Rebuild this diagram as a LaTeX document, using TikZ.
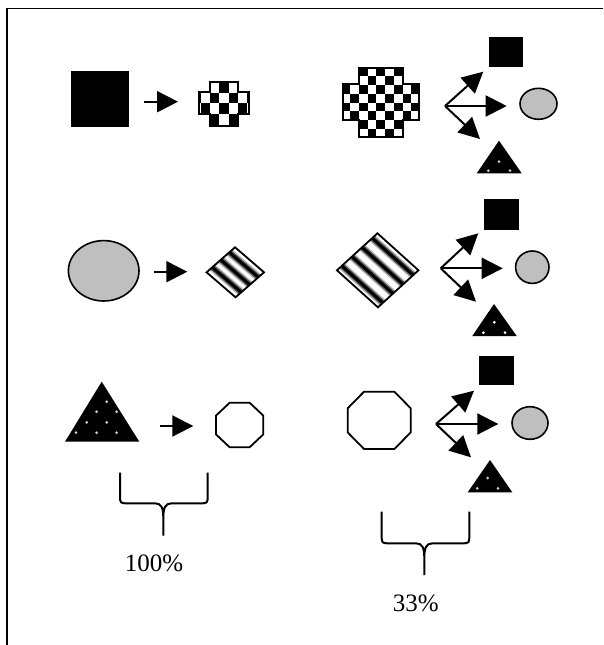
\documentclass[tikz,border=0pt]{standalone}
\usepackage{fontspec}
\setmainfont{Liberation Serif}
\usetikzlibrary{arrows.meta,calc}
\tikzset{
  conn/.style={line width=2pt, -{Triangle[length=21pt,width=21pt]}},
  outl/.style={line width=1.8pt, line join=miter},
  blk/.style={fill=black},
  ell/.style={fill=black!25, draw=black, line width=1.6pt},
  dotw/.style={fill=black!20},
  brace/.style={line width=2pt, line join=round},
  pct/.style={font=\fontsize{25}{30}\selectfont, inner sep=0pt, anchor=base},
  bandA/.style={line width=8pt, black!25},
  bandB/.style={line width=5.5pt, black!65},
  bandC/.style={line width=3pt, black},
  frame/.style={line width=1.3pt}
}
\newcommand\checkgrid[6]{%
  \foreach \ci in {0,...,#5}{%
    \foreach \cj in {0,...,#6}{%
      \pgfmathtruncatemacro\ckodd{mod(\ci+\cj,2)}%
      \ifnum\ckodd=0 \fill[black] ({#1+\ci*#3},{#2+\cj*#4}) rectangle ++(#3,#4);\fi
    }}}
\begin{document}
\begin{tikzpicture}[x=1pt,y=-1pt]
\useasboundingbox (0,0) rectangle (603,645);
% frame
\draw[frame] (7,645) -- (7,8.8) -- (603,8.8);

% ---------- row 1 ----------
\fill[blk] (71,71) rectangle (128.5,127);
\coordinate (a1s) at (144,101.7);
\coordinate (a1e) at (178,101.7);
\draw[conn] (a1s) -- (a1e);
% small checkered cross
\begin{scope}
  \clip (210,81.7) -- (238.3,81.7) -- (238.3,92.3) -- (249,92.3) -- (249,114.3) -- (238.3,114.3) -- (238.3,126) -- (210,126) -- (210,114.3) -- (199,114.3) -- (199,92.3) -- (210,92.3) -- cycle;
  \checkgrid{182.1}{81.7}{9.3}{10.8}{8}{5}
\end{scope}
\draw[outl] (210,81.7) -- (238.3,81.7) -- (238.3,92.3) -- (249,92.3) -- (249,114.3) -- (238.3,114.3) -- (238.3,126) -- (210,126) -- (210,114.3) -- (199,114.3) -- (199,92.3) -- (210,92.3) -- cycle;
% big checkered cross
\begin{scope}
  \clip (359,67.7) -- (402.7,67.7) -- (402.7,84) -- (419,84) -- (419,120) -- (402.7,120) -- (402.7,136.7) -- (359,136.7) -- (359,120) -- (342.7,120) -- (342.7,84) -- (359,84) -- cycle;
  \checkgrid{341.6}{67.7}{8.7}{8.7}{9}{8}
\end{scope}
\draw[outl] (359,67.7) -- (402.7,67.7) -- (402.7,84) -- (419,84) -- (419,120) -- (402.7,120) -- (402.7,136.7) -- (359,136.7) -- (359,120) -- (342.7,120) -- (342.7,84) -- (359,84) -- cycle;
% fan 1
\coordinate (f1) at (445,106);
\coordinate (f1u) at (483.3,71.7);
\coordinate (f1m) at (506.7,106);
\coordinate (f1d) at (480,139);
\draw[conn] (f1) -- (f1u);
\draw[conn] (f1) -- (f1m);
\draw[conn] (f1) -- (f1d);
\fill[blk] (489,37.3) rectangle (523.3,66.7);
\draw[ell] (538.5,103.8) ellipse [x radius=18.5pt, y radius=15.5pt];
\fill[blk] (499,140.7) -- (521.7,173.3) -- (476.7,173.3) -- cycle;
\fill[dotw] (499,161.7) circle (1.5pt) (488.3,170.7) circle (1.5pt) (510,170.7) circle (1.5pt);

% ---------- row 2 ----------
\draw[ell] (103.7,270.8) ellipse [x radius=35.3pt, y radius=30.2pt];
\coordinate (a2s) at (154,271.7);
\coordinate (a2e) at (187.3,271.7);
\draw[conn] (a2s) -- (a2e);
% small striped rhombus
\coordinate (sL) at (197.85,264.8);
\coordinate (sT) at (226.35,239.8);
\coordinate (sB) at (244.25,304.8);
\coordinate (sR) at (272.75,279.8);
\begin{scope}
  \clip (206.55,272.3) -- (235.05,247.3) -- (264.05,272.3) -- (235.55,297.3) -- cycle;
  \foreach \t in {0.2,0.5,0.8}{
    \draw[bandA] ($(sL)!\t!(sT)$) -- ($(sB)!\t!(sR)$);
    \draw[bandB] ($(sL)!\t!(sT)$) -- ($(sB)!\t!(sR)$);
    \draw[bandC] ($(sL)!\t!(sT)$) -- ($(sB)!\t!(sR)$);
  }
\end{scope}
\draw[outl] (206.55,272.3) -- (235.05,247.3) -- (264.05,272.3) -- (235.55,297.3) -- cycle;
% big striped rhombus
\coordinate (bL) at (324.65,259.2);
\coordinate (bT) at (365.15,222.2);
\coordinate (bB) at (390.25,318.4);
\coordinate (bR) at (430.75,281.4);
\begin{scope}
  \clip (336.95,270.3) -- (377.45,233.3) -- (418.45,270.3) -- (377.95,307.3) -- cycle;
  \foreach \t in {0.12,0.37,0.62,0.87}{
    \draw[bandA] ($(bL)!\t!(bT)$) -- ($(bB)!\t!(bR)$);
    \draw[bandB] ($(bL)!\t!(bT)$) -- ($(bB)!\t!(bR)$);
    \draw[bandC] ($(bL)!\t!(bT)$) -- ($(bB)!\t!(bR)$);
  }
\end{scope}
\draw[outl] (336.95,270.3) -- (377.45,233.3) -- (418.45,270.3) -- (377.95,307.3) -- cycle;
% fan 2
\coordinate (f2) at (440.7,268.3);
\coordinate (f2u) at (478.3,233.3);
\coordinate (f2m) at (502.7,268.3);
\coordinate (f2d) at (476,301.7);
\draw[conn] (f2) -- (f2u);
\draw[conn] (f2) -- (f2m);
\draw[conn] (f2) -- (f2d);
\fill[blk] (484,199.3) rectangle (519.3,230);
\draw[ell] (532.3,267.2) ellipse [x radius=16.7pt, y radius=16.2pt];
\fill[blk] (494,304) -- (516.7,336) -- (472.3,336) -- cycle;
\fill[white] (494.3,322.3) circle (1.5pt) (483.3,332.7) circle (1.5pt) (505,332.7) circle (1.5pt);

% ---------- row 3 ----------
\fill[blk] (101.7,381.7) -- (139.3,441.7) -- (65,441.7) -- cycle;
\foreach \p in {(106.7,401.7),(96.7,411.7),(116.7,411.7),(86.7,422.3),(106.7,422.3),(76,432.7),(96.7,432.7),(116.7,432.7)}
  \fill[dotw] \p circle (1.5pt);
\coordinate (a3s) at (160,426);
\coordinate (a3e) at (193.3,426);
\draw[conn] (a3s) -- (a3e);
\draw[outl] (229.7,402.7) -- (249.6,402.7) -- (263.3,415.6) -- (263.3,434.4) -- (249.6,447.3) -- (229.7,447.3) -- (216,434.4) -- (216,415.6) -- cycle;
\draw[outl] (364,391.7) -- (394.4,391.7) -- (410.7,408.3) -- (410.7,432.4) -- (394.4,449) -- (364,449) -- (347.7,432.4) -- (347.7,408.3) -- cycle;
% fan 3
\coordinate (f3) at (436,424);
\coordinate (f3u) at (474,390.7);
\coordinate (f3m) at (498.3,424);
\coordinate (f3d) at (471,457.3);
\draw[conn] (f3) -- (f3u);
\draw[conn] (f3) -- (f3m);
\draw[conn] (f3) -- (f3d);
\fill[blk] (479.3,356) rectangle (514.3,385);
\draw[ell] (530,423) ellipse [x radius=18pt, y radius=16.3pt];
\fill[blk] (490,460) -- (512.3,492.3) -- (467.7,492.3) -- cycle;
\fill[dotw] (487.7,478) circle (1.5pt) (477.3,488.3) circle (1.5pt) (498,488.3) circle (1.5pt);

% ---------- braces ----------
\draw[brace] (120,472.7) -- (120,495) .. controls (120,503.3) .. (128,503.3) -- (155,503.3)
  .. controls (161.5,503.3) and (163.3,508) .. (163.3,518) -- (163.3,535.7)
  (163.3,518) .. controls (163.3,508) and (165.1,503.3) .. (171.6,503.3) -- (199.7,503.3)
  .. controls (207.7,503.3) .. (207.7,495) -- (207.7,472.7);
\node[pct] (p100) at (154,571.7) {100\%};
\draw[brace] (381.7,511.7) -- (381.7,535) .. controls (381.7,543.3) .. (389.7,543.3) -- (416,543.3)
  .. controls (422.5,543.3) and (424.3,548) .. (424.3,558) -- (424.3,575)
  (424.3,558) .. controls (424.3,548) and (426.1,543.3) .. (432.6,543.3) -- (461.3,543.3)
  .. controls (469.3,543.3) .. (469.3,535) -- (469.3,511.7);
\node[pct] (p33) at (415.7,611.7) {33\%};
\end{tikzpicture}
\end{document}
